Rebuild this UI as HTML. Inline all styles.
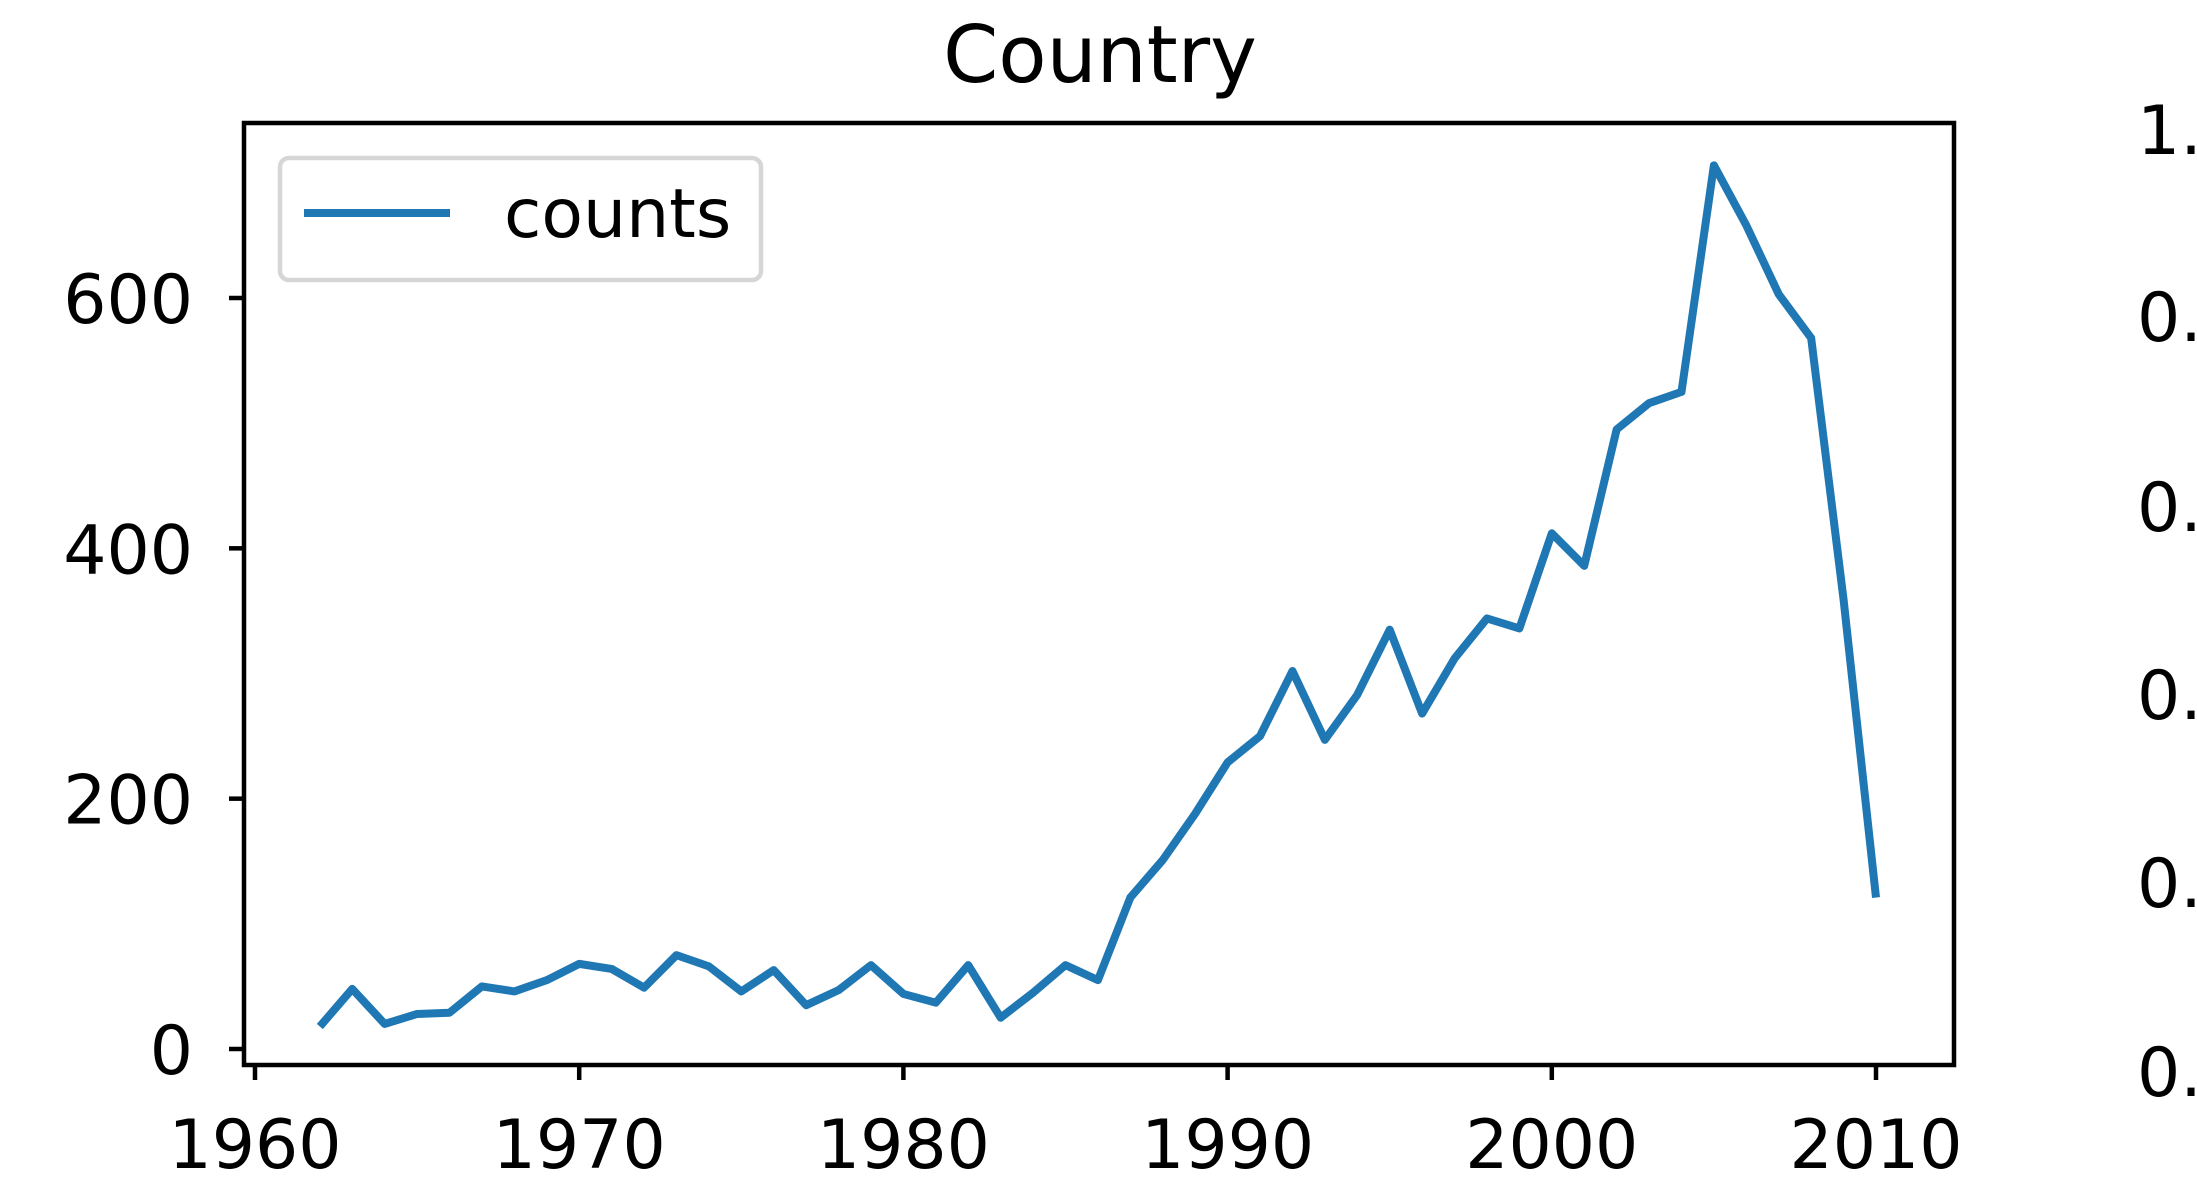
<!DOCTYPE html>
<html><head><meta charset="utf-8"><style>
html,body{margin:0;padding:0;background:#fff;}
svg{display:block;font-family:"DejaVu Sans","Liberation Sans",sans-serif;}
</style></head><body>
<svg id="chart" width="2197" height="1190" viewBox="0 0 2197 1190" xmlns="http://www.w3.org/2000/svg">
<text x="1100" y="82" font-size="79" text-anchor="middle" fill="#000">Country</text>
<g id="marks"></g>
<g id="axes"></g>
<rect x="244" y="123" width="1710" height="942" fill="none" stroke="#000" stroke-width="4.5"/>
<g>
<rect x="280" y="158" width="481" height="122" rx="9" fill="#fff" fill-opacity="0.8" stroke="#d6d6d6" stroke-width="4.5"/>
<line x1="304" y1="213" x2="450" y2="213" stroke="#1f77b4" stroke-width="8"/>
<text x="504" y="237" font-size="68" fill="#000">counts</text>
</g>
<g>
<text x="2137" y="154" font-size="68">1.</text>
<text x="2137" y="341" font-size="68">0.</text>
<text x="2137" y="531" font-size="68">0.</text>
<text x="2137" y="719" font-size="68">0.</text>
<text x="2137" y="907" font-size="68">0.</text>
<text x="2137" y="1096" font-size="68">0.</text>
</g>
</svg>
<script>
const years = [1962,1963,1964,1965,1966,1967,1968,1969,1970,1971,1972,1973,1974,1975,1976,1977,1978,1979,1980,1981,1982,1983,1984,1985,1986,1987,1988,1989,1990,1991,1992,1993,1994,1995,1996,1997,1998,1999,2000,2001,2002,2003,2004,2005,2006,2007,2008,2009,2010];
const counts = [18,48,20,28,29,50,46,55,68,64,49,75,66,46,63,35,47,67,44,37,67,25,45,67,55,121,151,188,229,250,302,247,283,335,268,312,344,336,412,386,495,516,525,706,658,603,568,359,121];
const xTicks = [1960,1970,1980,1990,2000,2010];
const yTicks = [0,200,400,600];
const NS = "http://www.w3.org/2000/svg";
function xs(v){return 255 + (v-1960)*(1876-255)/50;}
function ys(v){return 1049 - v*(1049-298)/600;}
const marks = document.getElementById('marks');
const axes = document.getElementById('axes');
const pl = document.createElementNS(NS,'polyline');
pl.setAttribute('points', years.map((y,i)=>xs(y)+','+ys(counts[i])).join(' '));
pl.setAttribute('fill','none');
pl.setAttribute('stroke','#1f77b4');
pl.setAttribute('stroke-width','8');
pl.setAttribute('stroke-linejoin','round');


marks.appendChild(pl);
xTicks.forEach(t=>{
  const l=document.createElementNS(NS,'line');
  l.setAttribute('x1',xs(t));l.setAttribute('x2',xs(t));l.setAttribute('y1',1065);l.setAttribute('y2',1080);
  l.setAttribute('stroke','#000');l.setAttribute('stroke-width','4.5');
  
  
  axes.appendChild(l);
  const tx=document.createElementNS(NS,'text');
  tx.setAttribute('x',xs(t));tx.setAttribute('y',1168);tx.setAttribute('font-size','68');tx.setAttribute('text-anchor','middle');
  tx.textContent=t;
  
  
  axes.appendChild(tx);
});
yTicks.forEach(t=>{
  const l=document.createElementNS(NS,'line');
  l.setAttribute('x1',229);l.setAttribute('x2',244);l.setAttribute('y1',ys(t));l.setAttribute('y2',ys(t));
  l.setAttribute('stroke','#000');l.setAttribute('stroke-width','4.5');
  
  
  axes.appendChild(l);
  const tx=document.createElementNS(NS,'text');
  tx.setAttribute('x',193);tx.setAttribute('y',ys(t)+25);tx.setAttribute('font-size','68');tx.setAttribute('text-anchor','end');
  tx.textContent=t;
  
  
  axes.appendChild(tx);
});
</script>
</body></html>
